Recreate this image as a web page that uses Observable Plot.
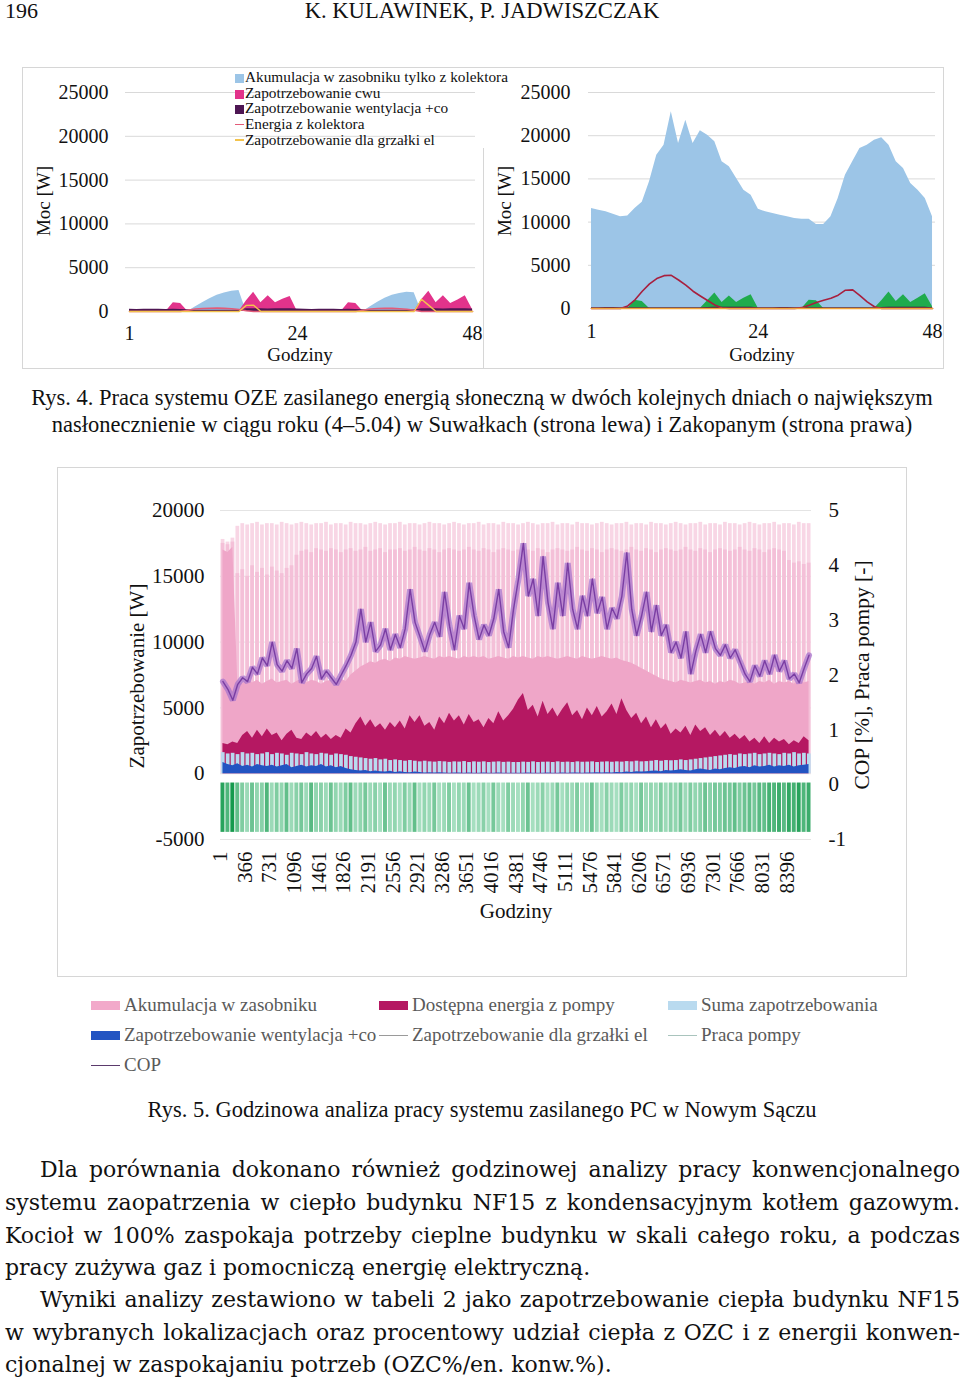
<!DOCTYPE html>
<html lang="pl">
<head>
<meta charset="utf-8">
<script src="https://cdn.jsdelivr.net/npm/d3@7"></script>
<script src="https://cdn.jsdelivr.net/npm/@observablehq/plot@0.6"></script>
<style>
html,body{margin:0;padding:0;background:#fff;}
body{width:960px;height:1382px;position:relative;overflow:hidden;font-family:"Liberation Serif","Times New Roman",serif;color:#111;}
.a{position:absolute;white-space:nowrap;}
.c{transform:translateX(-50%);}
.box{position:absolute;border:1px solid #d6d6d6;box-sizing:border-box;}
.rot{position:absolute;transform:translate(-50%,-50%) rotate(-90deg);white-space:nowrap;}
.svgw{position:absolute;}
.leg1{font-size:15.3px;line-height:15.7px;color:#111;}
.leg1 .sw{display:inline-block;width:9px;height:9px;margin-right:1px;vertical-align:-1px;}
.leg1 .ln{display:inline-block;width:9px;height:1.5px;margin-right:1px;vertical-align:4px;}
.leg2{position:absolute;font-size:19px;color:#5a5a5a;white-space:nowrap;line-height:22px;}
.leg2 .sw{position:absolute;left:-33px;top:7px;width:29px;height:9px;}
.leg2 .ln{position:absolute;left:-33px;top:11px;width:29px;height:1px;}
.bl{position:absolute;left:5px;width:955px;font-family:"DejaVu Serif",serif;font-size:22px;line-height:32px;white-space:nowrap;color:#111;}
.j{text-align:justify;text-align-last:justify;}
</style>
</head>
<body>
<div id="root"></div>
<script>
// ---------- Rys. 4: dane godzinowe (48 h) ----------
const godziny = [1,2,3,4,5,6,7,8,9,10,11,12,13,14,15,16,17,18,19,20,21,22,23,24,25,26,27,28,29,30,31,32,33,34,35,36,37,38,39,40,41,42,43,44,45,46,47,48];
const osYGora = [0,5000,10000,15000,20000,25000];
const osXGora = [1,24,48];

// Suwałki (lewa)
const akumL   = [0,0,0,0,0,0,0,0,0,500,1000,1450,1850,2100,2300,2400,0,0,0,0,0,0,0,0, 0,0,0,0,0,0,0,0,0,550,1050,1500,1850,2050,2200,2150,0,0,0,0,0,0,0,0];
const cwuL    = [0,0,0,0,0,0,1000,900,0,0,0,0,0,0,0,0,1200,2200,1000,1800,1000,1400,1700,0, 0,0,0,0,0,0,1000,900,0,0,0,0,0,0,0,0,1300,2300,1000,1800,900,1300,1800,200];
const wentL   = [250,240,250,260,250,240,250,230,200,150,140,150,150,140,150,160,300,310,300,290,300,310,300,280, 250,240,250,260,250,240,250,230,200,150,140,150,150,140,150,160,300,310,300,290,300,310,300,280];
const energiaL= [0,0,0,0,0,0,0,0,150,280,340,370,380,360,320,230,80,0,0,0,0,0,0,0, 0,0,0,0,0,0,0,0,150,280,340,360,360,320,250,150,0,0,0,0,0,0,0,0];
const grzalkaL= [0,0,0,0,0,0,0,0,0,0,0,0,0,0,0,0,700,720,0,0,0,0,0,0, 0,0,0,0,0,0,0,0,0,0,0,0,0,0,0,0,1400,700,0,0,0,0,0,0];

// Zakopane (prawa)
const akumR   = [11570,11380,11190,10920,10610,10720,11570,12300,14660,17750,18900,22760,19100,21800,19100,20560,20060,19290,16980,16400,15050,13700,13120,11500, 11190,11000,10800,10610,10420,10340,10340,9720,9720,10610,12730,15430,16980,18520,18900,19480,19750,18900,16980,16200,14470,13700,12730,10610];
const cwuR    = [0,0,0,0,0,0,950,800,0,0,0,0,0,0,0,0,900,1800,700,1450,700,1200,1600,0, 0,0,0,0,0,0,950,900,0,0,0,0,0,0,0,0,900,1900,800,1600,700,1200,1700,200];
const wentR   = [100,100,110,110,100,90,90,100,100,100,100,100,100,100,100,100,130,150,140,150,140,150,140,100, 100,100,110,110,100,90,90,100,100,100,100,100,100,100,100,100,130,150,140,150,140,150,140,100];
const energiaR= [0,0,0,0,0,300,1000,2000,2850,3470,3800,3840,3300,2700,2000,1450,920,400,50,0,0,0,0,0, 0,0,0,0,0,100,380,700,960,1180,1540,2120,2150,1500,770,200,0,0,0,0,0,0,0,0];
const grzalkaR= [0,0,0,0,0,0,0,0,0,0,0,0,0,0,0,0,0,0,0,0,0,0,0,0, 0,0,0,0,0,0,0,0,0,0,0,0,0,0,0,0,0,0,0,0,0,0,0,0];

// ---------- Rys. 5: analiza roczna (próbki co 73 h, 120 próbek) ----------
const osYLewa  = [-5000,0,5000,10000,15000,20000];
const osYPrawa = [-1,0,1,2,3,4,5];
const osXDolna = [1,366,731,1096,1461,1826,2191,2556,2921,3286,3651,4016,4381,4746,5111,5476,5841,6206,6571,6936,7301,7666,8031,8396];

const akumulacjaMax = [17800,17600,17900,18800,19000,18900,19000,19100,18900,19000,
19000,18900,19100,19000,18900,19000,19100,19000,18900,19000,
19000,19100,18900,19000,19000,18900,19100,19000,19000,18900,
19000,19100,19000,18900,19000,19000,19100,18900,19000,19000,
18900,19000,19100,19000,19000,18900,19000,19100,19000,18900,
19000,19000,19100,18900,19000,19000,18900,19100,19000,19000,
18900,19000,19100,19000,18900,19000,19000,19100,18900,19000,
19000,18900,19100,19000,19000,18900,19000,19100,19000,18900,
19000,19000,19100,18900,19000,19000,18900,19100,19000,19000,
18900,19000,19100,19000,18900,19000,19000,19100,18900,19000,
19000,18900,19100,19000,19000,18900,19000,19100,19000,18900,
19000,19000,19100,18900,19000,19000,18900,19100,19000,19000];

const akumulacjaCzesta = [17500,17400,17600,15200,15500,15000,15800,15300,15600,15100,
15700,15400,15200,15600,15800,16600,16900,17000,16800,17100,
17000,16900,17100,17000,16800,17000,17100,16900,17000,17200,
16900,17000,17100,16800,17000,17000,17100,16900,17000,17200,
17000,16900,17100,17000,16800,17000,17100,17000,16900,17000,
17200,17000,16900,17100,17000,16800,17000,17100,17000,16900,
17000,17200,17000,16900,17100,17000,16800,17000,17100,17000,
16900,17000,17200,17000,16900,17100,17000,16800,17000,17100,
17000,16900,17000,17200,17000,16900,17100,17000,16800,17000,
17100,17000,16900,17000,17200,17000,16900,17100,17000,16800,
17000,17100,17000,16900,17000,17200,17000,16900,17100,17000,
16800,17000,17100,17000,16900,16200,16000,16100,15900,16000];

const akumulacjaStala = [17000,16800,17200,7000,6800,7200,6900,7100,6800,7000,
7200,6900,7000,7100,6800,7000,7200,6900,7100,7000,
6800,7000,7100,6900,7200,7000,7500,7800,8100,8300,
8500,8400,8600,8700,8500,8800,8700,8900,8800,8700,
8800,8900,8800,8700,8900,8800,8900,8800,8700,8900,
8800,8900,8800,8900,8700,8800,8900,8800,8700,8900,
8800,8900,8800,8700,8900,8800,8900,8800,8700,8800,
8900,8800,8700,8900,8800,8700,8800,8900,8800,8700,
8800,8600,8500,8400,8200,8000,7800,7600,7400,7200,
7100,7000,6900,7100,7000,6900,7000,7100,6900,7000,
6800,7000,6900,7100,7000,6800,6900,7000,6800,7000,
6900,7100,6800,7000,6900,7000,6800,7100,6900,7000];

const dostepnaEnergia = [2300,2200,2400,2300,2900,3200,2700,3300,2800,3400,
2900,3100,2500,3000,3300,2700,2600,3100,2800,3200,
2700,3000,2600,2900,2700,3400,3100,3800,4300,3600,
4100,3500,3800,3300,3900,3500,4000,3400,4400,3900,
4400,3600,3900,3300,4300,3800,4600,4000,4400,3700,
4500,3900,4100,3500,4200,3800,4700,4000,4400,4900,
5600,6100,4800,5200,4300,5500,4500,5000,4300,4900,
5400,4400,4800,4100,5000,4400,5100,4300,4700,5300,
4500,5700,4800,4200,4600,3800,4300,3500,4100,3400,
3800,3000,3400,3100,3600,2900,3700,3200,3500,2900,
3300,2800,3200,2700,3000,2600,2900,2400,2700,2300,
2800,2300,2700,2400,2600,2200,2500,2300,2800,2500];

const sumaZapotrzebowania = [1600,1500,1550,1450,1600,1500,1550,1450,1500,1600,
1450,1550,1500,1400,1550,1500,1450,1600,1500,1450,
1550,1500,1400,1500,1450,1400,1300,1250,1200,1150,
1100,1150,1050,1100,1000,1050,1000,950,1000,950,
900,950,900,880,920,900,860,900,880,920,
850,900,870,900,850,880,900,860,880,850,
850,880,860,900,850,870,880,850,900,860,
880,850,900,870,880,900,850,880,900,870,
900,880,920,900,950,900,920,950,1000,950,
1000,980,1000,1050,1000,1050,1100,1150,1200,1250,
1300,1350,1400,1450,1400,1500,1450,1500,1550,1450,
1500,1550,1500,1450,1550,1500,1600,1500,1550,1500];

const wentylacjaCo = [850,700,600,750,550,650,500,700,600,550,
650,500,600,700,450,550,650,500,600,550,
700,500,600,450,550,400,300,250,200,250,
150,200,150,120,180,100,150,100,80,120,
100,60,80,50,70,60,40,60,50,40,
60,40,30,50,40,30,50,40,30,40,
30,40,50,30,40,30,50,40,30,50,
40,60,50,40,60,50,70,60,80,60,
100,80,120,100,150,120,150,180,200,150,
250,200,250,300,250,200,300,350,300,250,
350,300,400,450,400,500,550,450,600,500,
550,650,500,600,550,650,500,600,650,700];

const cop = [1.88,1.74,1.54,1.83,1.95,1.88,2.14,2.02,2.31,2.17,
2.60,2.19,2.07,2.26,2.12,2.48,1.86,2.02,2.12,2.34,
1.93,2.07,1.95,1.83,2.00,2.17,2.36,2.60,3.20,2.60,
2.96,2.43,2.55,2.84,2.46,2.74,2.50,2.84,3.56,2.96,
2.70,2.43,2.74,2.96,2.70,3.51,2.89,2.46,3.08,2.84,
3.68,3.08,2.65,2.91,2.72,3.03,3.56,2.79,2.50,3.20,
3.75,4.40,3.44,3.75,3.08,4.16,3.32,2.84,3.68,3.08,
4.04,3.20,2.84,3.44,3.08,3.75,3.13,3.42,2.84,3.22,
3.03,3.44,4.23,3.20,2.72,3.08,3.51,2.79,3.27,2.72,
2.91,2.41,2.60,2.31,2.79,2.02,2.43,2.74,2.41,2.79,
2.48,2.36,2.55,2.31,2.46,2.24,2.02,1.88,2.17,1.98,
2.26,2.02,2.36,2.07,2.26,1.93,2.02,1.86,2.12,2.36];

const pracaPompy = [0.9,0.7,1.0,0.6,0.45,0.3,0.55,0.35,0.4,0.7,
0.3,0.45,0.35,0.6,0.3,0.4,0.5,0.3,0.65,0.35,
0.4,0.3,0.55,0.35,0.3,0.45,0.6,0.3,0.35,0.5,
0.3,0.4,0.25,0.55,0.3,0.35,0.25,0.45,0.3,0.6,
0.25,0.35,0.3,0.5,0.25,0.3,0.45,0.25,0.35,0.3,
0.55,0.25,0.3,0.4,0.25,0.5,0.3,0.25,0.45,0.3,
0.25,0.35,0.55,0.25,0.3,0.4,0.25,0.3,0.5,0.25,
0.35,0.3,0.45,0.25,0.3,0.55,0.3,0.25,0.4,0.3,
0.25,0.45,0.3,0.35,0.25,0.5,0.3,0.35,0.3,0.45,
0.3,0.4,0.35,0.5,0.3,0.45,0.35,0.4,0.55,0.4,
0.5,0.45,0.55,0.5,0.6,0.45,0.55,0.6,0.5,0.65,
0.6,0.75,0.7,0.8,0.65,0.85,0.75,0.9,0.7,0.8];
const krokGodzin = 73;

// ---------- pomocnicze ----------
const root = document.getElementById("root");
function el(html){ const d=document.createElement("div"); d.innerHTML=html; while(d.firstChild) root.appendChild(d.firstChild); }
function place(node, left, top){ const w=document.createElement("div"); w.className="svgw"; w.style.left=left+"px"; w.style.top=top+"px"; w.appendChild(node); root.appendChild(w); }
const fmt = d => String(d);
const baseStyle = {fontFamily:"'Liberation Serif', serif", fontSize:"20px", color:"#111", background:"none", overflow:"visible"};

// ---------- Rys. 4 ----------
function wykres48(tab, o){
  const dane = godziny.map((h,i)=>({h, akum:tab.akum[i], cwu:tab.cwu[i], went:tab.went[i], energia:tab.energia[i], grzalka:tab.grzalka[i]}));
  return Plot.plot({
    width:o.width, height:301, marginLeft:o.ml, marginRight:o.mr, marginTop:25, marginBottom:o.mb,
    x:{domain:o.xdom}, y:{domain:[0,25000]}, style:baseStyle,
    marks:[
      Plot.ruleY(osYGora.slice(1), {stroke:"#d9d9d9", strokeWidth:1}),
      Plot.areaY(dane, {x:"h", y1:0, y2:"akum", fill:"#9cc5e7"}),
      Plot.areaY(dane, {x:"h", y1:0, y2:"cwu", fill:o.cwuColor}),
      Plot.areaY(dane, {x:"h", y1:0, y2:"went", fill:o.wentColor}),
      Plot.line(dane, {x:"h", y:"energia", stroke:o.enColor, strokeWidth:1.6}),
      Plot.line(dane, {x:"h", y:"grzalka", stroke:o.grzColor, strokeWidth:1.4}),
      Plot.axisY(osYGora, {tickSize:0, tickPadding:o.typ, tickFormat:fmt, label:null, fontSize:20}),
      Plot.axisX(osXGora, {tickSize:0, tickPadding:o.txp, tickFormat:fmt, label:null, fontSize:20})
    ]
  });
}

el(`<div class="a" style="left:5px;top:0px;font-size:22px;line-height:22px">196</div>
<div class="a c" style="left:482px;top:0px;font-size:22.6px;line-height:22px">K. KULAWINEK, P. JADWISZCZAK</div>
<div class="box" style="left:22px;top:67px;width:922px;height:302px"></div>
<div class="a" style="left:483px;top:148px;width:1px;height:220px;background:#d6d6d6"></div>`);

place(wykres48({akum:akumL,cwu:cwuL,went:wentL,energia:energiaL,grzalka:grzalkaL},
  {width:461, ml:103, mr:8, mb:57, xdom:[0.45,48.4], cwuColor:"#e2338b", wentColor:"#4e1653", enColor:"#e35b78", grzColor:"#f3c34c", typ:17, txp:14}), 22, 67);
place(wykres48({akum:akumR,cwu:cwuR,went:wentR,energia:energiaR,grzalka:grzalkaR},
  {width:460, ml:105, mr:8, mb:60, xdom:[0.59,48.41], cwuColor:"#1fab4d", wentColor:"#3a1240", enColor:"#a81f3e", grzColor:"#f2a53a", typ:18, txp:15}), 483, 67);

el(`<div class="rot" style="left:44px;top:201px;font-size:19px">Moc [W]</div>
<div class="rot" style="left:505px;top:201px;font-size:19px">Moc [W]</div>
<div class="a c" style="left:300px;top:343px;font-size:19px;line-height:23px">Godziny</div>
<div class="a c" style="left:762px;top:343px;font-size:19px;line-height:23px">Godziny</div>
<div class="a leg1" style="left:235px;top:69px">
 <div><span class="sw" style="background:#9cc5e7"></span>Akumulacja w zasobniku tylko z kolektora</div>
 <div><span class="sw" style="background:#e2338b"></span>Zapotrzebowanie cwu</div>
 <div><span class="sw" style="background:#4e1653"></span>Zapotrzebowanie wentylacja +co</div>
 <div><span class="ln" style="background:#e35b78"></span>Energia z kolektora</div>
 <div><span class="ln" style="background:#f3c34c"></span>Zapotrzebowanie dla grzałki el</div>
</div>
<div class="a c" style="left:482px;top:384px;font-size:22.5px;line-height:27px">Rys. 4. Praca systemu OZE zasilanego energią słoneczną w dwóch kolejnych dniach o największym</div>
<div class="a c" style="left:482px;top:411px;font-size:22.5px;line-height:27px">nasłonecznienie w ciągu roku (4–5.04) w Suwałkach (strona lewa) i Zakopanym (strona prawa)</div>
<div class="box" style="left:57px;top:467px;width:850px;height:510px"></div>`);

// ---------- Rys. 5 ----------
const copNaW = v => v*4166.67 - 833.33;
const wNaCop = w => (w + 833.33)/4166.67;
const zielen = d3.interpolateRgb("#d6f6e6", "#159a4d");
const probki = cop.map((c,i)=>({
  x1: 1 + krokGodzin*i, x2: 1 + krokGodzin*(i+1), xm: 1 + krokGodzin*i + krokGodzin/2,
  akMax: akumulacjaMax[i], akCz: akumulacjaCzesta[i], akSt: akumulacjaStala[i],
  dost: dostepnaEnergia[i], suma: sumaZapotrzebowania[i], went: wentylacjaCo[i],
  cop: c, praca: pracaPompy[i]
}));

const duzy = Plot.plot({
  width:849, height:509, marginLeft:163, marginRight:95, marginTop:43, marginBottom:137,
  x:{domain:[1, 1 + krokGodzin*cop.length]}, y:{domain:[-5000,20000]},
  color:{type:"identity"}, style:{...baseStyle, fontSize:"21px"},
  marks:[
    Plot.ruleY(osYLewa, {stroke:"#e4e4e4", strokeWidth:1}),
    Plot.rectY(probki, {x1:"x1", x2:"x2", y1:0, y2:"akMax", fill:"#f8d6e5", insetLeft:0.7, insetRight:0.5}),
    Plot.rectY(probki, {x1:"x1", x2:"x2", y1:0, y2:"akCz", fill:"#f4c0d8", insetLeft:0.7, insetRight:0.5}),
    Plot.areaY(probki, {x:"xm", y1:0, y2:"akSt", fill:"#efa6c8"}),
    Plot.areaY(probki, {x:"xm", y1:0, y2:"dost", fill:"#b51862"}),
    Plot.rectY(probki, {x1:"x1", x2:"x2", y1:0, y2:"suma", fill:"#b9daef", insetLeft:0.9, insetRight:0.3}),
    Plot.areaY(probki, {x:"xm", y1:0, y2:"went", fill:"#2254c2"}),
    Plot.rectY(probki, {x1:"x1", x2:"x2", y1:copNaW(0.03), y2:copNaW(-0.87), fill:d=>zielen(d.praca), insetLeft:0.5, insetRight:0.5}),
    Plot.line(probki, {x:"xm", y:d=>copNaW(d.cop), stroke:"#a874cc", strokeWidth:6, strokeOpacity:0.75, strokeLinejoin:"miter"}),
    Plot.line(probki, {x:"xm", y:d=>copNaW(d.cop), stroke:"#7a3ea3", strokeWidth:1.4}),
    Plot.axisY(osYLewa, {anchor:"left", tickSize:0, tickPadding:16, tickFormat:fmt, label:null, fontSize:21}),
    Plot.axisY(osYPrawa.map(copNaW), {anchor:"right", tickSize:0, tickPadding:17, tickFormat:d=>String(Math.round(wNaCop(d))), label:null, fontSize:21}),
    Plot.axisX(osXDolna, {tickRotate:-90, tickSize:0, tickPadding:12, tickFormat:fmt, label:null, fontSize:21})
  ]
});
place(duzy, 57, 467);

el(`<div class="rot" style="left:137px;top:676px;font-size:21px">Zapotrzebowanie [W]</div>
<div class="rot" style="left:862px;top:675px;font-size:21.5px">COP [%], Praca pompy [-]</div>
<div class="a c" style="left:516px;top:899px;font-size:21px;line-height:25px">Godziny</div>
<div class="leg2" style="left:124px;top:994px"><span class="sw" style="background:#f2a9ca"></span>Akumulacja w zasobniku</div>
<div class="leg2" style="left:412px;top:994px"><span class="sw" style="background:#b51862"></span>Dostępna energia z pompy</div>
<div class="leg2" style="left:701px;top:994px"><span class="sw" style="background:#b9daef"></span>Suma zapotrzebowania</div>
<div class="leg2" style="left:124px;top:1024px"><span class="sw" style="background:#2254c2"></span>Zapotrzebowanie wentylacja +co</div>
<div class="leg2" style="left:412px;top:1024px"><span class="ln" style="background:#9a9a9a"></span>Zapotrzebowanie dla grzałki el</div>
<div class="leg2" style="left:701px;top:1024px"><span class="ln" style="background:#a9c4bd"></span>Praca pompy</div>
<div class="leg2" style="left:124px;top:1054px"><span class="ln" style="background:#5b3a6c"></span>COP</div>
<div class="a c" style="left:482px;top:1096px;font-size:22.5px;line-height:27px">Rys. 5. Godzinowa analiza pracy systemu zasilanego PC w Nowym Sączu</div>
<div class="bl j" style="top:1154px;left:40px;width:920px">Dla porównania dokonano również godzinowej analizy pracy konwencjonalnego</div>
<div class="bl j" style="top:1187px">systemu zaopatrzenia w ciepło budynku NF15 z kondensacyjnym kotłem gazowym.</div>
<div class="bl j" style="top:1220px">Kocioł w 100% zaspokaja potrzeby cieplne budynku w skali całego roku, a podczas</div>
<div class="bl" style="top:1252px">pracy zużywa gaz i pomocniczą energię elektryczną.</div>
<div class="bl j" style="top:1284px;left:40px;width:920px">Wyniki analizy zestawiono w tabeli 2 jako zapotrzebowanie ciepła budynku NF15</div>
<div class="bl j" style="top:1317px">w wybranych lokalizacjach oraz procentowy udział ciepła z OZC i z energii konwen-</div>
<div class="bl" style="top:1349px">cjonalnej w zaspokajaniu potrzeb (OZC%/en. konw.%).</div>`);
</script>
</body>
</html>
